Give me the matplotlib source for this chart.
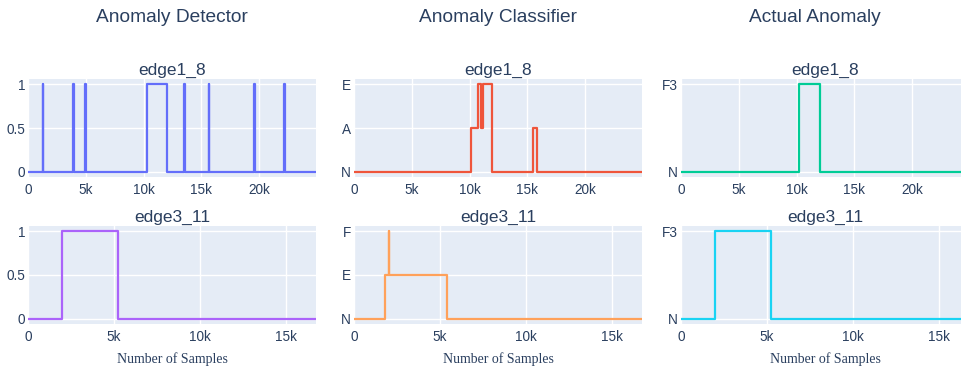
import matplotlib; matplotlib.use('Agg'); import matplotlib.pyplot as plt
from matplotlib.ticker import FixedLocator

# ---- data: step change points (sample index) and level after each point ----
det_e18_x = [0, 1300, 1340, 3900, 3940, 4940, 4980, 10250, 12030, 13510, 13550,
             15620, 15660, 19570, 19610, 22160, 22200, 24900]
det_e18_y = [0, 1, 0, 1, 0, 1, 0, 1, 0, 1, 0, 1, 0, 1, 0, 1, 0, 0]
clf_e18_x = [0, 10140, 10710, 11020, 11180, 11900, 15490, 15800, 24900]
clf_e18_y = [0, 1, 2, 1, 2, 0, 1, 0, 0]
act_e18_x = [0, 10160, 11980, 24900]
act_e18_y = [0, 1, 0, 0]

det_e311_x = [0, 1970, 5250, 16750]
det_e311_y = [0, 1, 0, 0]
clf_e311_x = [0, 1800, 2020, 2060, 5380, 16750]
clf_e311_y = [0, 1, 2, 1, 0, 0]
act_e311_x = [0, 1990, 5210, 16750]
act_e311_y = [0, 1, 0, 0]

col_titles = ['Anomaly Detector', 'Anomaly Classifier', 'Actual Anomaly']
row_titles = ['edge1_8', 'edge3_11']
det_labels = ['0', '0.5', '1']
clf_e18_labels = ['N', 'A', 'E']
clf_e311_labels = ['N', 'E', 'F']
act_labels = ['N', 'F3']
xmax = [24900, 16750]

TXT = '#2a3f5f'
BG = '#E5ECF6'
plt.rcParams['font.family'] = ['Liberation Sans', 'DejaVu Sans']

W, H = 962, 369
fig = plt.figure(figsize=(W / 100, H / 100), dpi=100)

lefts = [28, 354, 681]
width = 288
rows = [(79, 177), (226, 324)]

panels = [
    [(det_e18_x, det_e18_y, '#636EFA', det_labels, [0, 0.5, 1]),
     (clf_e18_x, clf_e18_y, '#EF553B', clf_e18_labels, [0, 1, 2]),
     (act_e18_x, act_e18_y, '#00CC96', act_labels, [0, 1])],
    [(det_e311_x, det_e311_y, '#AB63FA', det_labels, [0, 0.5, 1]),
     (clf_e311_x, clf_e311_y, '#FFA15A', clf_e311_labels, [0, 1, 2]),
     (act_e311_x, act_e311_y, '#19D3F3', act_labels, [0, 1])],
]

for r, (top, bot) in enumerate(rows):
    for c in range(3):
        x, y, color, labels, ticks = panels[r][c]
        ax = fig.add_axes([lefts[c] / W, 1 - bot / H, width / W, (bot - top) / H])
        ax.set_facecolor(BG)
        for s in ax.spines.values():
            s.set_visible(False)
        ax.step(x, y, where='post', color=color, lw=1.6, zorder=3)
        top_v = max(ticks)
        ax.set_ylim(-0.057 * top_v, 1.057 * top_v)
        ax.set_xlim(0, xmax[r])
        ax.yaxis.set_major_locator(FixedLocator(ticks))
        ax.set_yticklabels(labels)
        xt = list(range(0, xmax[r] + 1, 5000))
        ax.xaxis.set_major_locator(FixedLocator(xt))
        ax.set_xticklabels(['0' if v == 0 else f'{v // 1000}k' for v in xt])
        ax.tick_params(length=0, labelsize=9.8, colors=TXT)
        ax.tick_params(axis='x', pad=4)
        ax.tick_params(axis='y', pad=2)
        ax.grid(True, color='white', lw=1.0, zorder=0)
        ax.set_axisbelow(True)
        ax.set_title(row_titles[r], fontsize=12.5, color=TXT, pad=3)
        if r == 1:
            ax.set_xlabel('Number of Samples', family=['Liberation Serif'],
                          fontsize=10, color=TXT, labelpad=6)

for c, t in enumerate(col_titles):
    cx = [172, 498, 815][c]
    fig.text(cx / W, 1 - 17 / H, t, ha='center', va='center', fontsize=13.8, color=TXT)

fig.savefig('out.png', dpi=100)
